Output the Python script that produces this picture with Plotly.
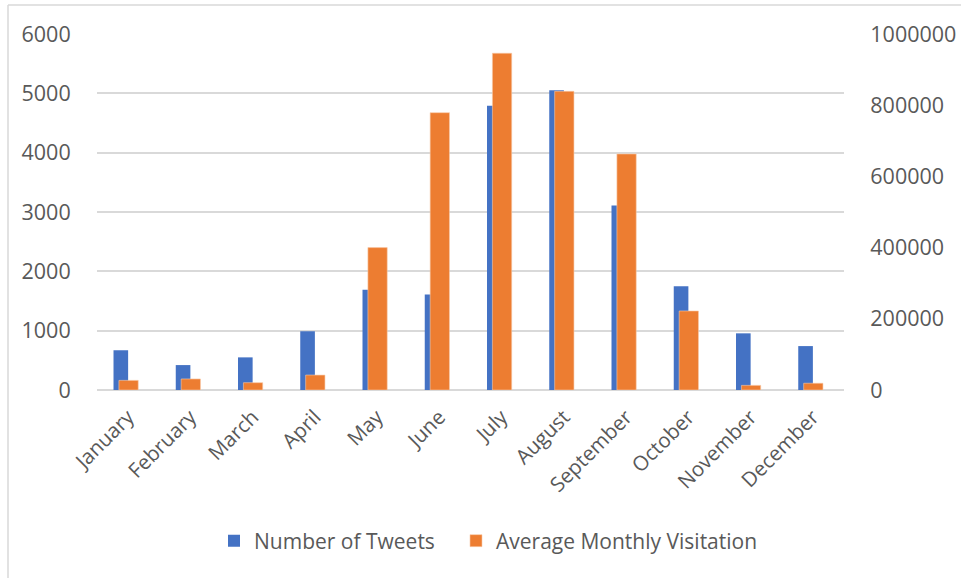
import plotly.graph_objects as go

months = ["January", "February", "March", "April", "May", "June", "July",
          "August", "September", "October", "November", "December"]
tweets = [670, 420, 550, 990, 1690, 1610, 4790, 5050, 3110, 1750, 955, 740]
visitation = [27000, 31000, 20500, 42000, 400000, 779000, 946000, 839000,
              663000, 222000, 13000, 19000]

left_ticks = [0, 1000, 2000, 3000, 4000, 5000, 6000]
right_ticks = [0, 200000, 400000, 600000, 800000, 1000000]

W, H = 961, 578
L, R, T, B = 97, 844, 34, 390
FONT = "Open Sans"
GREY = "#595959"

fig = go.Figure()
fig.add_trace(go.Bar(
    x=months, y=tweets, name="Number of Tweets",
    marker=dict(color="#4472C4", line=dict(width=0)),
    offset=-0.235, width=0.235, yaxis="y", legend="legend"))
fig.add_trace(go.Bar(
    x=months, y=visitation, name="Average Monthly Visitation",
    marker=dict(color="#ED7D31", line=dict(width=0.6, color="#F8C9A8")),
    offset=-0.148, width=0.31, yaxis="y2", legend="legend2"))

pw, ph = R - L, B - T
def px(xp):
    return (xp - L) / pw
def py(yp):
    return (B - yp) / ph

leg_common = dict(orientation="h", xanchor="left", y=py(541), yanchor="middle",
                  font=dict(size=21, color=GREY), itemwidth=30,
                  bgcolor="rgba(0,0,0,0)")

fig.update_layout(
    width=W, height=H,
    margin=dict(l=L, r=W - R, t=T, b=H - B, autoexpand=False),
    paper_bgcolor="white", plot_bgcolor="white",
    barmode="overlay",
    font=dict(family=FONT, size=21, color=GREY),
    xaxis=dict(tickangle=-45, showgrid=False, showline=False, zeroline=False,
               ticks="outside", ticklen=6, tickcolor="rgba(0,0,0,0)",
               automargin=False, tickfont=dict(size=20.5, color=GREY)),
    yaxis=dict(range=[0, 6000], tickvals=left_ticks, showgrid=True,
               gridcolor="#D9D9D9", gridwidth=1.5, zeroline=True,
               zerolinecolor="#D9D9D9", zerolinewidth=1.5, showline=False,
               ticks="outside", ticklen=21, tickcolor="rgba(0,0,0,0)",
               automargin=False, tickfont=dict(size=21.5, color=GREY)),
    yaxis2=dict(range=[0, 1000000], tickvals=right_ticks, overlaying="y",
                side="right", showgrid=False, zeroline=False, showline=False,
                ticks="outside", ticklen=21, tickcolor="rgba(0,0,0,0)",
                automargin=False, tickformat="d",
                tickfont=dict(size=21.5, color=GREY)),
    legend=dict(x=px(214), **leg_common),
    legend2=dict(x=px(456), **leg_common),
    showlegend=True,
    shapes=[
        dict(type="line", xref="paper", yref="paper",
             x0=px(8), x1=px(W + 5), y0=py(5), y1=py(5),
             line=dict(color="#D9D9D9", width=1.5)),
        dict(type="line", xref="paper", yref="paper",
             x0=px(8), x1=px(8), y0=py(5), y1=py(H + 5),
             line=dict(color="#D9D9D9", width=1.5)),
    ],
)

fig.write_html("out.html")
